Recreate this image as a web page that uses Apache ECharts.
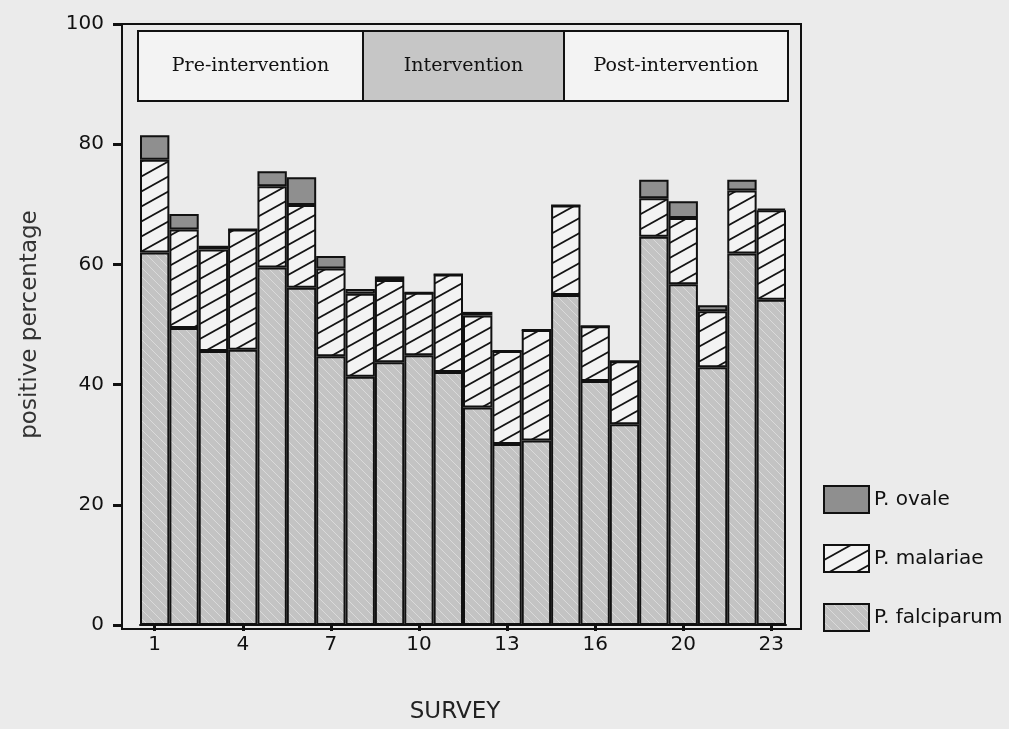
<!DOCTYPE html>
<html>
<head>
<meta charset="utf-8">
<title>Malaria positivity by survey</title>
<script src="https://cdn.jsdelivr.net/npm/echarts@6/dist/echarts.min.js"></script>
<style>
  html, body { margin: 0; padding: 0; background: #ebebeb; }
  #chart { width: 1009px; height: 729px; }
</style>
</head>
<body>
<div id="chart"></div>
<script>
// Survey rounds (one round is absent from the series)
const surveys = ['1','2','3','4','5','6','7','8','9','10','11','12','13','14','15','16','17','18','20','21','22','23'];

// Positive percentage by species, stacked bottom to top
const falciparum = [62.0, 49.4, 45.6, 45.8, 59.5, 56.1, 44.7, 41.3, 43.7, 44.9, 42.1, 36.2, 30.1, 30.7, 54.9, 40.6, 33.4, 64.6, 56.7, 42.9, 61.8, 54.1];
const malariae   = [15.4, 16.4, 16.9, 20.0, 13.5, 13.8, 14.6, 13.8, 13.7, 10.4, 16.2, 15.3, 15.5, 18.4, 14.9,  9.1, 10.5,  6.4, 11.0,  9.3, 10.5, 14.9];
const ovale      = [ 4.1,  2.6,  0.6,  0.0,  2.5,  4.6,  2.1,  0.8,  0.6,  0.0,  0.0,  0.6,  0.0,  0.0,  0.0,  0.0,  0.0,  3.1,  2.8,  1.0,  1.8,  0.3];

const yTicks = [0, 20, 40, 60, 80, 100];
const phases = ['Pre-intervention', 'Intervention', 'Post-intervention'];

// Tile a diagonal hatch into a small canvas used as a repeating fill
function hatch(w, h, base, line, lw, rising) {
  const c = document.createElement('canvas');
  c.width = w; c.height = h;
  const g = c.getContext('2d');
  g.fillStyle = base;
  g.fillRect(0, 0, w, h);
  g.strokeStyle = line;
  g.lineWidth = lw;
  for (const dy of [-h, 0, h]) {
    g.beginPath();
    if (rising) {
      g.moveTo(-w * 0.1, h + dy + h * 0.1);
      g.lineTo(w * 1.1, dy - h * 0.1);
    } else {
      g.moveTo(-w * 0.1, dy - h * 0.1);
      g.lineTo(w * 1.1, h + dy + h * 0.1);
    }
    g.stroke();
  }
  return { image: c, repeat: 'repeat' };
}

const falcFill = hatch(9, 9, '#c3c3c3', '#dadada', 1, false);
const malFill = hatch(27, 15, '#f3f3f3', '#141414', 1.8, true);
const ovaleFill = '#8f8f8f';

const chart = echarts.init(document.getElementById('chart'), null, { renderer: 'canvas' });

const edge = { borderColor: '#111', borderWidth: 2 };

// Phase banner across the top of the plot
const bannerTop = 31, bannerH = 70;
const cells = [
  { x: 138, w: 225, fill: '#f3f3f3' },
  { x: 363, w: 201, fill: '#c6c6c6' },
  { x: 564, w: 224, fill: '#f3f3f3' }
];
const banner = [];
cells.forEach((c, i) => {
  banner.push({
    type: 'rect', z: 10,
    shape: { x: c.x, y: bannerTop, width: c.w, height: bannerH },
    style: { fill: c.fill, stroke: '#111', lineWidth: 2 }
  });
  banner.push({
    type: 'text', z: 11,
    x: c.x + c.w / 2, y: bannerTop + bannerH / 2,
    style: {
      text: phases[i], fill: '#111',
      font: '19px "DejaVu Serif"',
      align: 'center', verticalAlign: 'middle'
    }
  });
});

const option = {
  animation: false,
  backgroundColor: '#ebebeb',
  textStyle: { fontFamily: 'DejaVu Sans' },
  grid: [
    { left: 140, right: 223, top: 24, bottom: 100 },
    { left: 122, right: 208, top: 24, bottom: 100, show: true,
      borderColor: '#111', borderWidth: 2, backgroundColor: 'transparent', z: 1 }
  ],
  xAxis: [
    {
      type: 'category', gridIndex: 0, data: surveys, boundaryGap: true,
      axisLine: { show: true, lineStyle: { color: '#111', width: 2 } },
      axisTick: { show: true, interval: 2, alignWithLabel: true, length: 6, lineStyle: { color: '#111', width: 3 } },
      axisLabel: { interval: 2, margin: 10, fontSize: 20, color: '#111', fontFamily: 'DejaVu Sans' },
      splitLine: { show: false },
      name: 'SURVEY', nameLocation: 'middle', nameGap: 76,
      nameTextStyle: { fontSize: 23, color: '#222', fontFamily: 'DejaVu Sans', padding: [0, 16, 0, 0] }
    },
    { type: 'value', gridIndex: 1, show: false, min: 0, max: 1 }
  ],
  yAxis: [
    {
      type: 'value', gridIndex: 0, min: yTicks[0], max: yTicks[yTicks.length - 1], interval: 20,
      offset: 18,
      axisLine: { show: true, lineStyle: { color: '#111', width: 2 } },
      axisTick: { show: true, length: 9, lineStyle: { color: '#111', width: 3 } },
      axisLabel: { margin: 18, fontSize: 20, color: '#111', fontFamily: 'DejaVu Sans' },
      splitLine: { show: false },
      name: 'positive percentage', nameLocation: 'middle', nameGap: 80, nameRotate: 90,
      nameTextStyle: { fontSize: 23, color: '#333', fontFamily: 'DejaVu Sans' }
    },
    { type: 'value', gridIndex: 1, show: false, min: 0, max: 1 }
  ],
  legend: {
    orient: 'vertical', left: 818, top: 480,
    itemWidth: 45, itemHeight: 27, itemGap: 30,
    icon: 'rect',
    data: ['P. ovale', 'P. malariae', 'P. falciparum'],
    textStyle: { fontSize: 20, color: '#111', fontFamily: 'DejaVu Sans' }
  },
  series: [
    { name: 'P. falciparum', type: 'bar', stack: 'pos', data: falciparum,
      barCategoryGap: '0%', itemStyle: Object.assign({ color: falcFill }, edge) },
    { name: 'P. malariae', type: 'bar', stack: 'pos', data: malariae,
      barCategoryGap: '0%', itemStyle: Object.assign({ color: malFill }, edge) },
    { name: 'P. ovale', type: 'bar', stack: 'pos', data: ovale,
      barCategoryGap: '0%', itemStyle: Object.assign({ color: ovaleFill }, edge) }
  ],
  graphic: banner
};

chart.setOption(option);
</script>
</body>
</html>
